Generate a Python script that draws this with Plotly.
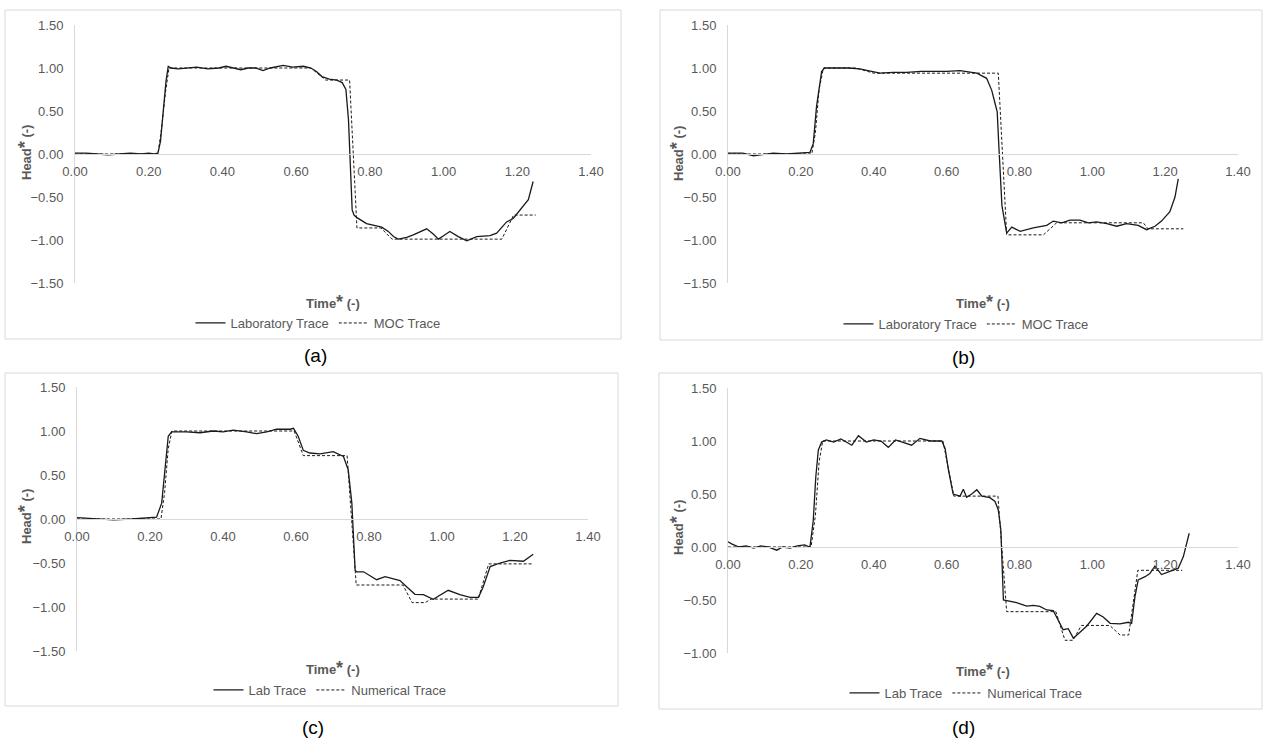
import plotly.graph_objects as go

# ---------------- DATA ----------------
# Panel (a)
t_lab_a = [0.00,0.03,0.06,0.09,0.12,0.15,0.18,0.20,0.215,0.225,0.232,0.24,0.247,0.253,0.26,0.28,0.30,0.33,0.36,0.39,0.41,0.43,0.45,0.47,0.49,0.51,0.53,0.565,0.59,0.62,0.64,0.655,0.67,0.69,0.71,0.725,0.735,0.742,0.748,0.752,0.757,0.765,0.791,0.81,0.832,0.85,0.864,0.877,0.90,0.918,0.935,0.954,0.972,0.986,1.00,1.017,1.04,1.063,1.09,1.11,1.126,1.144,1.171,1.189,1.207,1.23,1.243]
h_lab_a = [0.01,0.01,0.00,-0.01,0.00,0.01,0.00,0.01,0.00,0.01,0.15,0.55,0.85,1.02,1.00,0.99,1.00,1.01,0.99,1.00,1.02,1.00,0.98,1.00,1.00,0.97,1.00,1.03,1.01,1.02,1.00,0.96,0.90,0.87,0.86,0.83,0.75,0.40,-0.30,-0.65,-0.71,-0.74,-0.81,-0.83,-0.85,-0.90,-0.96,-0.99,-0.97,-0.94,-0.91,-0.87,-0.93,-0.99,-0.95,-0.90,-0.96,-1.01,-0.96,-0.95,-0.95,-0.92,-0.79,-0.75,-0.65,-0.53,-0.32]
t_moc_a = [0.00,0.225,0.235,0.245,0.255,0.64,0.68,0.745,0.765,0.83,0.86,1.158,1.19,1.25]
h_moc_a = [0.00,0.00,0.30,0.70,1.00,1.00,0.86,0.86,-0.86,-0.86,-0.99,-0.99,-0.71,-0.71]

# Panel (b)
t_lab_b = [0.00,0.04,0.07,0.10,0.124,0.16,0.20,0.225,0.234,0.243,0.257,0.265,0.30,0.33,0.362,0.39,0.417,0.453,0.49,0.53,0.563,0.60,0.637,0.683,0.71,0.724,0.733,0.739,0.744,0.752,0.765,0.779,0.802,0.838,0.875,0.893,0.916,0.939,0.966,0.989,1.012,1.04,1.067,1.094,1.126,1.149,1.172,1.19,1.213,1.227,1.236]
h_lab_b = [0.01,0.01,-0.02,0.00,0.01,0.00,0.01,0.02,0.12,0.55,0.96,1.00,1.00,1.00,0.99,0.96,0.94,0.95,0.95,0.96,0.96,0.96,0.97,0.94,0.88,0.74,0.59,0.49,0.05,-0.60,-0.92,-0.85,-0.90,-0.86,-0.83,-0.78,-0.80,-0.77,-0.77,-0.80,-0.79,-0.81,-0.84,-0.81,-0.83,-0.88,-0.84,-0.78,-0.67,-0.50,-0.29]
t_moc_b = [0.00,0.23,0.24,0.25,0.262,0.35,0.40,0.742,0.765,0.866,0.902,1.14,1.153,1.25]
h_moc_b = [0.00,0.00,0.25,0.75,1.00,1.00,0.94,0.94,-0.94,-0.94,-0.80,-0.80,-0.87,-0.87]

# Panel (c)
t_lab_c = [0.00,0.05,0.10,0.15,0.20,0.218,0.232,0.241,0.25,0.259,0.30,0.337,0.373,0.40,0.428,0.465,0.492,0.52,0.547,0.584,0.593,0.606,0.62,0.638,0.666,0.702,0.73,0.743,0.753,0.762,0.766,0.785,0.821,0.844,0.885,0.903,0.926,0.949,0.976,1.017,1.049,1.077,1.10,1.113,1.132,1.159,1.186,1.223,1.25]
h_lab_c = [0.015,0.00,-0.01,0.00,0.01,0.02,0.18,0.56,0.94,0.99,0.99,0.98,1.00,0.99,1.01,0.99,0.97,0.99,1.02,1.02,1.03,0.94,0.78,0.75,0.74,0.765,0.71,0.56,0.18,-0.58,-0.60,-0.60,-0.69,-0.655,-0.70,-0.77,-0.856,-0.86,-0.913,-0.81,-0.86,-0.89,-0.89,-0.77,-0.54,-0.50,-0.47,-0.48,-0.40]
t_moc_c = [0.00,0.23,0.24,0.25,0.26,0.595,0.62,0.74,0.765,0.893,0.918,0.954,0.97,1.099,1.128,1.25]
h_moc_c = [0.00,0.00,0.30,0.80,1.00,1.00,0.72,0.72,-0.75,-0.75,-0.95,-0.95,-0.91,-0.91,-0.51,-0.51]

# Panel (d)
t_lab_d = [0.00,0.01,0.03,0.05,0.07,0.09,0.11,0.134,0.15,0.17,0.19,0.21,0.225,0.234,0.241,0.248,0.257,0.27,0.29,0.31,0.34,0.358,0.38,0.40,0.42,0.44,0.46,0.48,0.504,0.527,0.555,0.587,0.596,0.605,0.618,0.637,0.646,0.655,0.669,0.683,0.697,0.719,0.733,0.742,0.749,0.756,0.77,0.792,0.82,0.838,0.856,0.875,0.893,0.907,0.92,0.934,0.948,0.961,0.985,1.012,1.03,1.049,1.076,1.099,1.108,1.117,1.126,1.145,1.158,1.172,1.19,1.213,1.236,1.25,1.266]
h_lab_d = [0.05,0.03,0.00,0.01,-0.01,0.01,0.00,-0.03,0.00,-0.01,0.01,0.02,0.00,0.25,0.66,0.915,0.99,1.01,0.99,1.02,0.96,1.05,0.99,1.01,1.00,0.94,1.01,0.99,0.96,1.025,1.00,1.00,0.93,0.73,0.50,0.48,0.545,0.47,0.50,0.54,0.48,0.465,0.43,0.35,0.16,-0.50,-0.51,-0.525,-0.557,-0.55,-0.56,-0.594,-0.60,-0.69,-0.78,-0.77,-0.86,-0.82,-0.745,-0.626,-0.66,-0.72,-0.725,-0.71,-0.72,-0.47,-0.31,-0.28,-0.25,-0.18,-0.26,-0.23,-0.20,-0.09,0.13]
t_moc_d = [0.00,0.228,0.24,0.25,0.26,0.59,0.62,0.741,0.765,0.90,0.925,0.947,0.97,1.048,1.076,1.10,1.125,1.247]
h_moc_d = [0.00,0.00,0.30,0.80,1.00,1.00,0.48,0.48,-0.61,-0.61,-0.88,-0.88,-0.74,-0.74,-0.83,-0.83,-0.22,-0.22]

x_ticks = [0.0, 0.2, 0.4, 0.6, 0.8, 1.0, 1.2, 1.4]
legend_names = {
    "a": ("Laboratory Trace", "MOC Trace"),
    "b": ("Laboratory Trace", "MOC Trace"),
    "c": ("Lab Trace", "Numerical Trace"),
    "d": ("Lab Trace", "Numerical Trace"),
}
panel_labels = ["(a)", "(b)", "(c)", "(d)"]

# ---------------- LAYOUT HELPERS ----------------
W, H = 1266, 738
def px(x):
    return x / W
def py(y):
    return 1 - y / H

GRAY = "#595959"
AXIS = "#d9d9d9"
FONT = "Liberation Sans, Arial, sans-serif"
FS = 13

panels = [
    dict(key="a", lab=(t_lab_a, h_lab_a), moc=(t_moc_a, h_moc_a), xd=(75, 591), yd=(25, 283), yr=(-1.5, 1.5),
         zero=154, ytitle=(25, 153), xtitle=(333, 302), leg=(318, 323), border=(5, 10, 621, 339), lab_pos=(315, 356)),
    dict(key="b", lab=(t_lab_b, h_lab_b), moc=(t_moc_b, h_moc_b), xd=(728, 1238), yd=(25, 283), yr=(-1.5, 1.5),
         zero=154, ytitle=(677, 153), xtitle=(983, 302), leg=(966, 324), border=(660, 10, 1262, 340), lab_pos=(963, 357)),
    dict(key="c", lab=(t_lab_c, h_lab_c), moc=(t_moc_c, h_moc_c), xd=(77, 588), yd=(387, 651), yr=(-1.5, 1.5),
         zero=519, ytitle=(25, 517), xtitle=(333, 668), leg=(330, 690), border=(5, 373, 618, 706), lab_pos=(313, 727)),
    dict(key="d", lab=(t_lab_d, h_lab_d), moc=(t_moc_d, h_moc_d), xd=(728, 1238), yd=(388, 653), yr=(-1.0, 1.5),
         zero=547, ytitle=(677, 527), xtitle=(983, 670), leg=(966, 693), border=(659, 373, 1262, 709), lab_pos=(963, 727)),
]

fig = go.Figure()
layout = dict(
    width=W, height=H, margin=dict(l=0, r=0, t=0, b=0, pad=0, autoexpand=False),
    paper_bgcolor="white", plot_bgcolor="white",
    font=dict(family=FONT, size=FS, color=GRAY),
    shapes=[], annotations=[],
)

for i, p in enumerate(panels):
    n = i + 1
    xa = "x" if n == 1 else f"x{n}"
    ya = "y" if n == 1 else f"y{n}"
    lg = "legend" if n == 1 else f"legend{n}"
    name_lab, name_moc = legend_names[p["key"]]
    fig.add_trace(go.Scatter(x=p["lab"][0], y=p["lab"][1], mode="lines", name=name_lab,
                             line=dict(color="#1a1a1a", width=1.3), xaxis=xa, yaxis=ya, legend=lg))
    fig.add_trace(go.Scatter(x=p["moc"][0], y=p["moc"][1], mode="lines", name=name_moc,
                             line=dict(color="#1a1a1a", width=1, dash="3px,2px"), xaxis=xa, yaxis=ya, legend=lg))

    y0, y1 = p["yd"]
    ydom = [py(y1), py(y0)]
    xdom = [px(p["xd"][0]), px(p["xd"][1])]
    xkey = "xaxis" if n == 1 else f"xaxis{n}"
    ykey = "yaxis" if n == 1 else f"yaxis{n}"
    layout[xkey] = dict(domain=xdom, range=[0, 1.4], anchor="free", position=py(p["zero"]),
                        showline=True, linecolor=AXIS, linewidth=1, showgrid=False, zeroline=False,
                        tickvals=x_ticks, tickformat=".2f", ticks="", ticklabelstandoff=5,
                        tickfont=dict(size=FS, color=GRAY), fixedrange=True, automargin=False)
    ytv = [v / 2 for v in range(int(p["yr"][0] * 2), int(p["yr"][1] * 2) + 1)]
    layout[ykey] = dict(domain=ydom, range=list(p["yr"]), anchor=xa,
                        showline=True, linecolor=AXIS, linewidth=1, showgrid=False, zeroline=False,
                        tickvals=ytv, tickformat=".2f", ticks="", ticklabelstandoff=8,
                        tickfont=dict(size=FS, color=GRAY), fixedrange=True, automargin=False)
    layout[lg] = dict(orientation="h", x=px(p["leg"][0]), y=py(p["leg"][1]), xanchor="center", yanchor="middle",
                      font=dict(size=FS, color=GRAY), bgcolor="rgba(0,0,0,0)", itemwidth=30,
                      tracegroupgap=0)
    bx0, by0, bx1, by1 = p["border"]
    layout["shapes"].append(dict(type="rect", xref="paper", yref="paper", x0=px(bx0), x1=px(bx1),
                                 y0=py(by1), y1=py(by0), line=dict(color=AXIS, width=1)))
    layout["annotations"].append(dict(text="<b>Head<span style='font-size:18px'>*</span> (-)</b>",
                                      xref="paper", yref="paper", x=px(p["ytitle"][0]), y=py(p["ytitle"][1]),
                                      textangle=-90, showarrow=False, xanchor="center", yanchor="middle",
                                      font=dict(size=FS, color=GRAY)))
    layout["annotations"].append(dict(text="<b>Time<span style='font-size:18px'>*</span> (-)</b>",
                                      xref="paper", yref="paper", x=px(p["xtitle"][0]), y=py(p["xtitle"][1]),
                                      showarrow=False, xanchor="center", yanchor="middle",
                                      font=dict(size=FS, color=GRAY)))
    layout["annotations"].append(dict(text=panel_labels[i], xref="paper", yref="paper",
                                      x=px(p["lab_pos"][0]), y=py(p["lab_pos"][1]),
                                      showarrow=False, xanchor="center", yanchor="middle",
                                      font=dict(size=19, color="black")))

fig.update_layout(**layout)
fig.write_html("out.html", config={"displayModeBar": False, "staticPlot": True},
               post_script="document.body.style.margin='0';document.body.style.overflow='hidden';")
